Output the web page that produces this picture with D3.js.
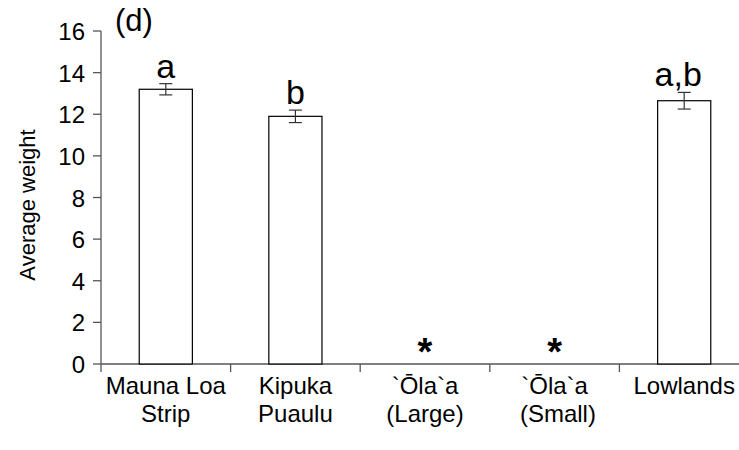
<!DOCTYPE html>
<html>
<head>
<meta charset="utf-8">
<script src="https://cdn.jsdelivr.net/npm/d3@7"></script>
<style>
  html, body { margin: 0; padding: 0; background: #fff; }
  svg { display: block; font-family: Arial, "Liberation Sans", sans-serif; }
</style>
</head>
<body>
<div id="chart"></div>
<script>
// site names (two lines each), means, standard errors, significance letters
const categories = [["Mauna Loa", "Strip"], ["Kipuka", "Puaulu"], ["`Ōla`a", "(Large)"], ["`Ōla`a", " (Small)"], ["Lowlands"]];
const means = [13.2, 11.9, null, null, 12.65];
const errors = [0.27, 0.3, null, null, 0.4];
const letters = ["a", "b", "*", "*", "a,b"];
const yTicks = [0, 2, 4, 6, 8, 10, 12, 14, 16];

const width = 739, height = 450;

const svg = d3.select("#chart").append("svg")
    .attr("width", width)
    .attr("height", height);

const g = svg.append("g");

const x0 = 101, x1 = 749;
const x = d3.scaleBand()
    .domain(d3.range(categories.length))
    .range([x0, x1])
    .paddingInner(0.59)
    .paddingOuter(0.295);

const y = d3.scaleLinear().domain([0, 16]).range([364, 31]);

const axisColor = "#555";

// y axis
g.append("line")
    .attr("x1", x0).attr("x2", x0)
    .attr("y1", y(16)).attr("y2", y(0))
    .attr("stroke", axisColor).attr("stroke-width", 1.3);

const yt = g.append("g").selectAll("g").data(yTicks).join("g");
yt.append("line")
    .attr("x1", x0 - 8).attr("x2", x0)
    .attr("y1", d => y(d)).attr("y2", d => y(d))
    .attr("stroke", axisColor).attr("stroke-width", 1.3);
yt.append("text")
    .attr("x", x0 - 16)
    .attr("y", d => y(d))
    .attr("dy", "0.38em")
    .attr("text-anchor", "end")
    .style("font-size", "24px")
    .text(d => d);

// x axis
g.append("line")
    .attr("x1", x0).attr("x2", x1)
    .attr("y1", y(0)).attr("y2", y(0))
    .attr("stroke", axisColor).attr("stroke-width", 1.5);

const step = x.step();
g.append("g").selectAll("line")
    .data(d3.range(categories.length + 1))
    .join("line")
    .attr("x1", i => x0 + i * step).attr("x2", i => x0 + i * step)
    .attr("y1", y(0)).attr("y2", y(0) + 8)
    .attr("stroke", axisColor).attr("stroke-width", 1.3);

// bars
const data = means.map((m, i) => ({ i, m, e: errors[i], lab: letters[i] }));
const withBars = data.filter(d => d.m != null);

g.append("g").selectAll("rect")
    .data(withBars)
    .join("rect")
    .attr("x", d => x(d.i))
    .attr("width", x.bandwidth())
    .attr("y", d => y(d.m))
    .attr("height", d => y(0) - y(d.m))
    .attr("fill", "#fff")
    .attr("stroke", "#000")
    .attr("stroke-width", 1.2);

// error bars
const capW = 6.5;
const cx = d => x(d.i) + x.bandwidth() / 2;
const eb = g.append("g").selectAll("g").data(withBars).join("g")
    .attr("stroke", "#333").attr("stroke-width", 1.2);
eb.append("line")
    .attr("x1", cx).attr("x2", cx)
    .attr("y1", d => y(d.m + d.e)).attr("y2", d => y(d.m - d.e));
eb.append("line")
    .attr("x1", d => cx(d) - capW).attr("x2", d => cx(d) + capW)
    .attr("y1", d => y(d.m + d.e)).attr("y2", d => y(d.m + d.e));
eb.append("line")
    .attr("x1", d => cx(d) - capW).attr("x2", d => cx(d) + capW)
    .attr("y1", d => y(d.m - d.e)).attr("y2", d => y(d.m - d.e));

// significance letters
g.append("g").selectAll("text")
    .data(withBars)
    .join("text")
    .attr("x", cx)
    .attr("dx", d => d.lab.length > 1 ? -6 : 0)
    .attr("y", d => y(d.m + d.e) - 6)
    .attr("text-anchor", "middle")
    .style("font-size", "34px")
    .text(d => d.lab);

// asterisks for sites with no data
g.append("g").selectAll("text")
    .data(data.filter(d => d.m == null))
    .join("text")
    .attr("x", cx)
    .attr("y", y(0) + 1)
    .attr("text-anchor", "middle")
    .style("font-size", "38px")
    .style("font-weight", "bold")
    .text(d => d.lab);

// category labels
const cl = g.append("g").selectAll("text")
    .data(categories)
    .join("text")
    .attr("x", (d, i) => x(i) + x.bandwidth() / 2)
    .attr("y", 394)
    .attr("text-anchor", "middle")
    .style("font-size", "24px");
cl.selectAll("tspan")
    .data(d => d)
    .join("tspan")
    .attr("x", function () { return d3.select(this.parentNode).attr("x"); })
    .attr("dy", (d, i) => i === 0 ? 0 : 28)
    .attr("xml:space", "preserve")
    .text(d => d);

// panel label
g.append("text")
    .attr("x", 115)
    .attr("y", 31)
    .style("font-size", "31px")
    .text("(d)");

// y axis title
g.append("text")
    .attr("transform", `translate(35,205) rotate(-90)`)
    .attr("text-anchor", "middle")
    .style("font-size", "22px")
    .text("Average weight");
</script>
</body>
</html>
